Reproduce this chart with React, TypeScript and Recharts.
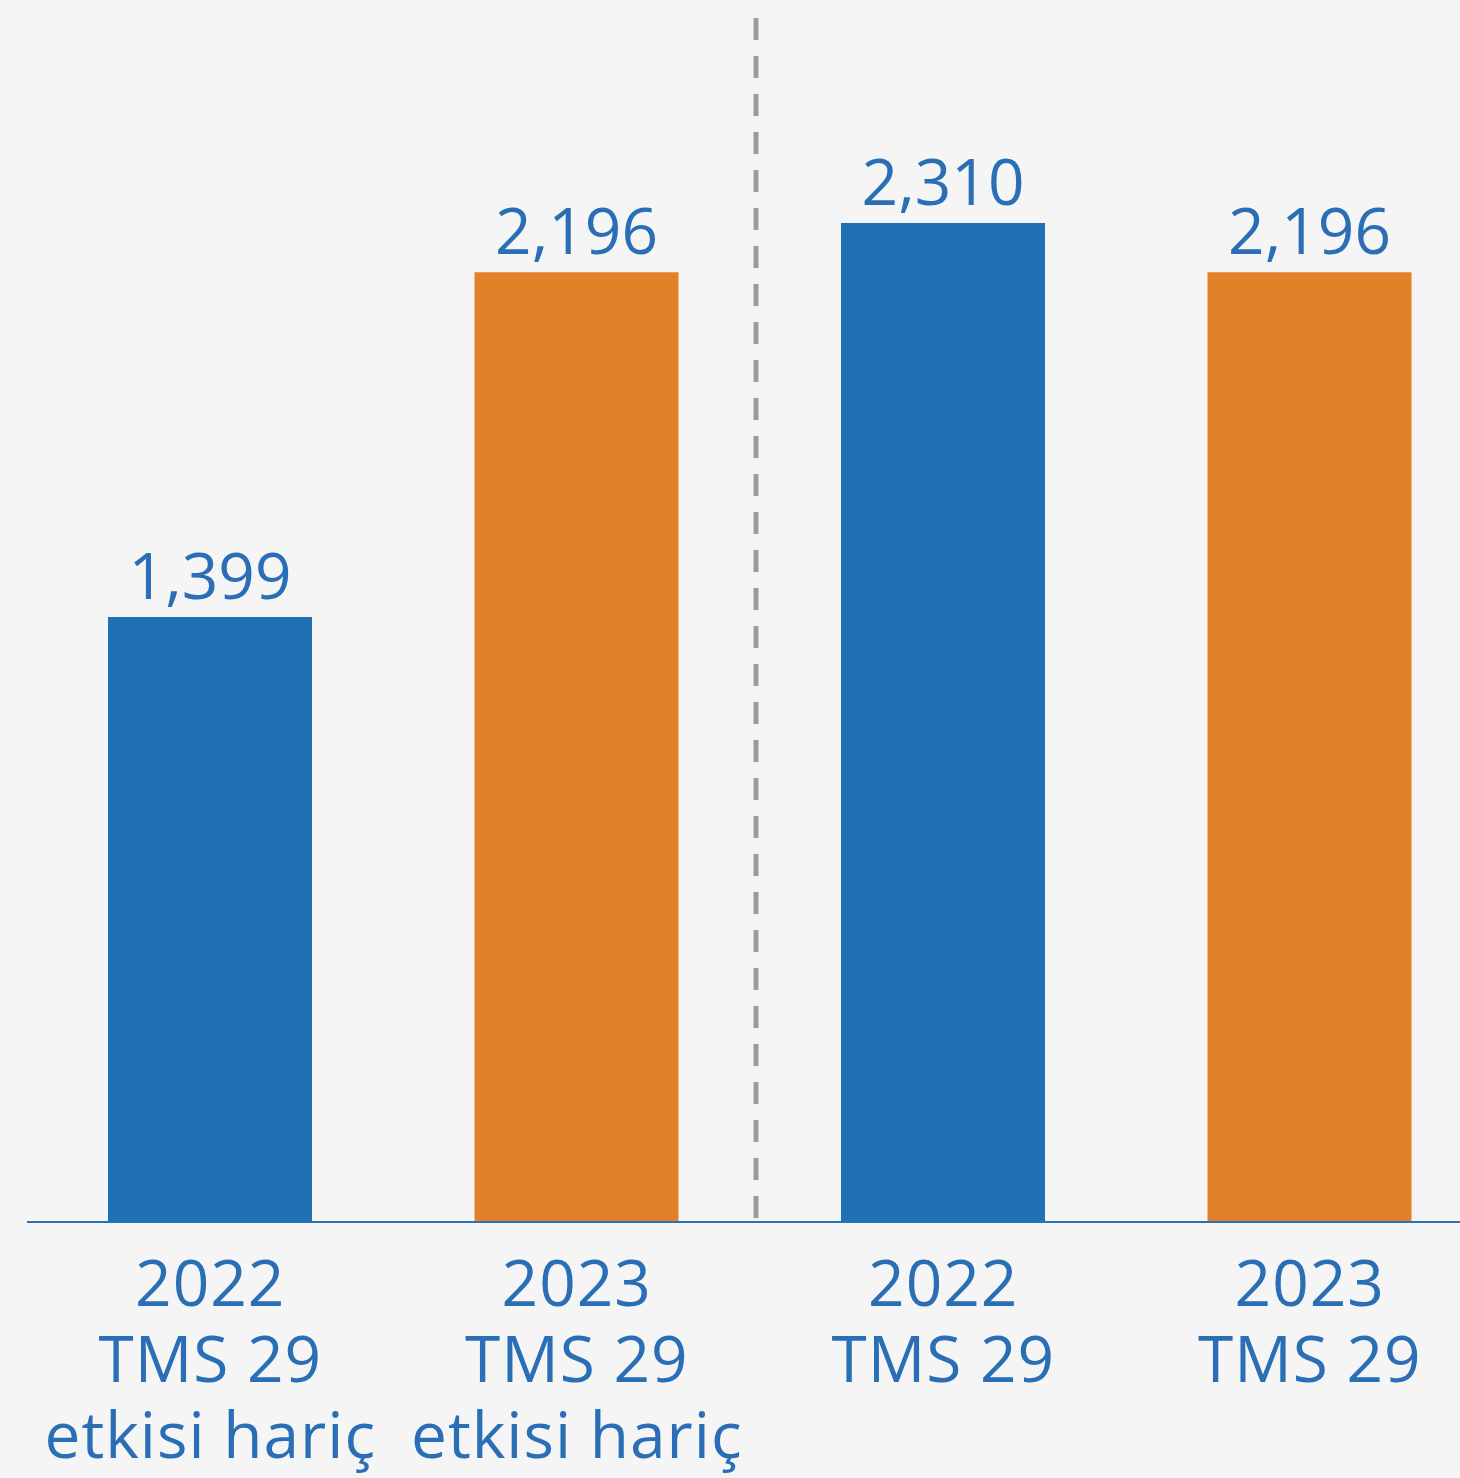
import { BarChart, Bar, XAxis, YAxis, Cell, LabelList, ReferenceLine } from "recharts";

const years = ["2022", "2023", "2022", "2023"];
const tmsLines = ["TMS 29", "TMS 29", "TMS 29", "TMS 29"];
const noteLines = ["etkisi hariç", "etkisi hariç", "", ""];
const values = [1399, 2196, 2310, 2196];

const BLUE = "#2070b4";
const ORANGE = "#e38128";
const TEXT = "#2a6fb5";
const FONT = "'Open Sans', sans-serif";

const data = years.map((y, i) => ({
  key: [y, tmsLines[i], noteLines[i]].join(" ").trim(),
  year: y,
  tms: tmsLines[i],
  note: noteLines[i],
  value: values[i],
}));

if (typeof document !== "undefined") {
  document.body.style.margin = "0";
  document.body.style.overflow = "hidden";
  document.body.style.background = "#f5f5f5";
}

function Tick({ x, y, index }: { x?: number; y?: number; index?: number }) {
  const d = data[index ?? 0];
  return (
    <text x={x} y={(y ?? 0) + 84} textAnchor="middle" fill={TEXT} fontSize={64} fontFamily={FONT} letterSpacing={1}>
      <tspan x={x}>{d.year}</tspan>
      <tspan x={x} dy={76}>{d.tms}</tspan>
      {d.note && <tspan x={x} dy={76}>{d.note}</tspan>}
    </text>
  );
}

function ValueLabel(props: any) {
  const { x, y, width, value } = props;
  return (
    <text x={x + width / 2} y={y - 18} textAnchor="middle" fill={TEXT} fontSize={64} fontFamily={FONT}>
      {Number(value).toLocaleString("en-US")}
    </text>
  );
}

// dashed divider between the two groups, a bit taller than the plot
function Divider(props: any) {
  const { x1, y1, y2 } = props;
  const top = Math.min(y1, y2) + 7;
  const bottom = Math.max(y1, y2) + 11;
  return (
    <line x1={x1 - 4} x2={x1 - 4} y1={top} y2={bottom} stroke="#9a9b9e" strokeWidth={5} strokeDasharray="22 16" />
  );
}

export default function App() {
  return (
    <div style={{ position: "absolute", left: 0, top: 0, width: 1460, height: 1478, overflow: "hidden", background: "#f5f5f5" }}>
      <BarChart
        width={1500}
        height={1478}
        data={data}
        margin={{ top: 11, right: 7, left: 27, bottom: 0 }}
      >
        <XAxis
          dataKey="key"
          height={256}
          axisLine={{ stroke: "#2a72b8", strokeWidth: 2 }}
          tickLine={false}
          tickSize={0}
          tickMargin={0}
          interval={0}
          tick={<Tick />}
        />
        <YAxis hide domain={[0, 2800]} />
        <ReferenceLine
          x={data[1].key}
          position="end"
          ifOverflow="visible"
          shape={<Divider />}
        />
        <Bar dataKey="value" barSize={204} isAnimationActive={false}>
          {data.map((d, i) => (
            <Cell key={d.key} fill={i % 2 === 0 ? BLUE : ORANGE} />
          ))}
          <LabelList dataKey="value" content={<ValueLabel />} />
        </Bar>
      </BarChart>
    </div>
  );
}
